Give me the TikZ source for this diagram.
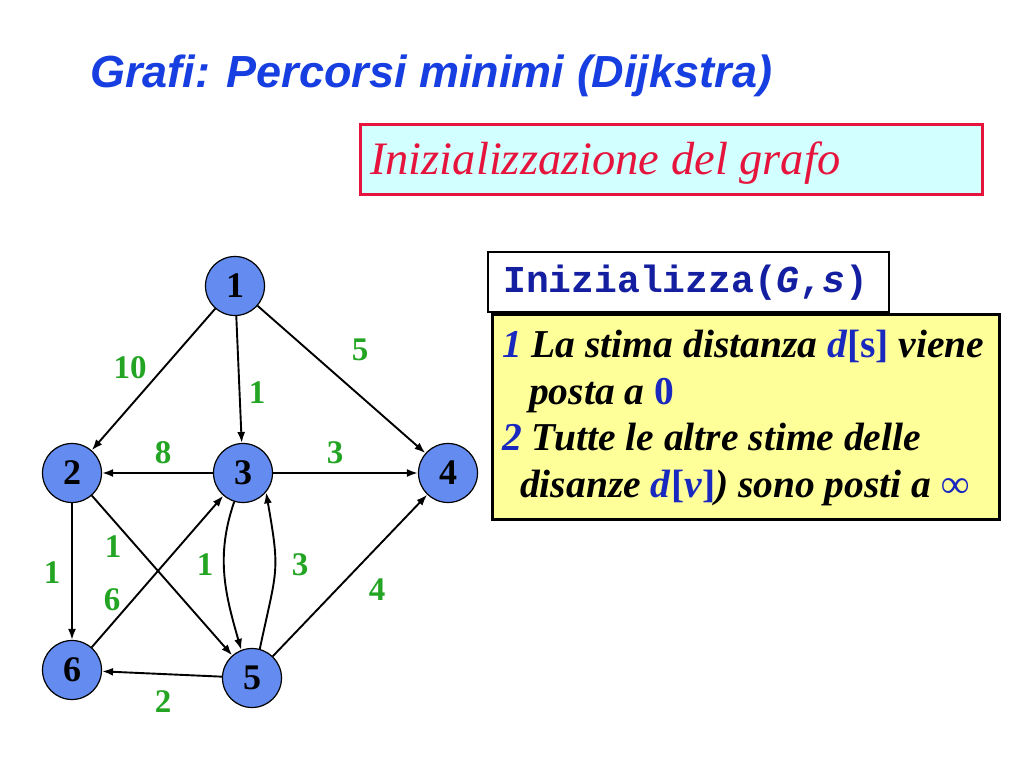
\documentclass[tikz,border=0pt]{standalone}
\usepackage{fontspec}
\setmainfont{Liberation Serif}
\newfontfamily\arialfont{Liberation Sans}
\newfontfamily\courfont{Liberation Mono}
\usetikzlibrary{arrows.meta}
\definecolor{titleblue}{RGB}{22,62,224}
\definecolor{boxred}{RGB}{230,20,60}
\definecolor{boxcyan}{RGB}{210,255,255}
\definecolor{navy}{RGB}{20,30,160}
\definecolor{darkblue}{RGB}{25,40,190}
\definecolor{lightyellow}{RGB}{255,255,153}
\definecolor{nodeblue}{RGB}{100,140,240}
\definecolor{labgreen}{RGB}{35,165,35}
\tikzset{
  vertex/.style={circle, draw=black, line width=1.2pt, fill=nodeblue, minimum size=59pt, inner sep=0pt,
    font=\fontsize{36}{36}\selectfont\bfseries},
  edge/.style={line width=1.9pt, -{Latex[length=11pt,width=8pt]}},
  wlabel/.style={text=labgreen, font=\fontsize{33}{33}\selectfont\bfseries, inner sep=0pt},
  txtline/.style={anchor=base west, inner sep=0pt, font=\fontsize{39.5}{47}\selectfont\bfseries\itshape}
}
\begin{document}
\begin{tikzpicture}[x=1pt,y=1pt]
\fill[white] (0,0) rectangle (1024,768);
\useasboundingbox (0,0) rectangle (1024,768);

% title
\node[anchor=base west, inner sep=0pt, text=titleblue, font=\arialfont\fontsize{45}{45}\selectfont\bfseries\itshape] (title) at (90,680) {Grafi: Percorsi minimi (Dijkstra)};

% red box
\draw[boxred, line width=3pt, fill=boxcyan] (360,573) rectangle (982,643);
\node[anchor=base west, inner sep=0pt, text=boxred, font=\fontsize{46.5}{46.5}\selectfont\itshape] (subtitle) at (370,593) {Inizializzazione del grafo};

% Inizializza box
\draw[black, line width=2pt, fill=white] (488,456) rectangle (889,516);
\node[anchor=base west, inner sep=0pt, text=navy, font=\courfont\fontsize{38}{38}\selectfont\bfseries] (proc) at (503,475) {Inizializza(\textit{G},\textit{s})};

% yellow box
\draw[black, line width=3pt, fill=lightyellow] (492,248) rectangle (999,453);
\node[txtline] (l1) at (502,410) {\textcolor{darkblue}{1} La stima distanza \textcolor{darkblue}{d\textup{[s]}} viene};
\node[txtline] (l2) at (529,363) {posta a \textcolor{darkblue}{\textup{0}}};
\node[txtline] (l3) at (502,317) {\textcolor{darkblue}{2} Tutte le altre stime delle};
\node[txtline] (l4) at (520,270) {disanze \textcolor{darkblue}{d\textup{[}v\textup{]}}) sono posti a \textcolor{darkblue}{\textup{∞}}};

% graph nodes
\node[vertex] (n1) at (235,482) {\raisebox{-7pt}{1}};
\node[vertex] (n2) at (72,295) {2};
\node[vertex] (n3) at (243,295) {\raisebox{-7pt}{3}};
\node[vertex] (n4) at (448,295) {4};
\node[vertex] (n5) at (252,90) {\raisebox{-5pt}{5}};
\node[vertex] (n6) at (72,98) {6};

% edges
\draw[edge] (n1) -- (n2);
\draw[edge] (n1) -- (n3);
\draw[edge] (n1) -- (n4);
\draw[edge] (n3) -- (n2);
\draw[edge] (n3) -- (n4);
\draw[edge] (n2) -- (n6);
\draw[edge] (n2) -- (n5);
\draw[edge] (n6) -- (n3);
\draw[edge] (n5) -- (n4);
\draw[edge] (n5) -- (n6);
\draw[edge] (n3.-107) to[out=-109,in=106] (n5.111);
\draw[edge] (n5.75) to[out=78,in=-80,looseness=1.35] (n3.-40);

% weights
\node[wlabel] (w12) at (130,400) {10};
\node[wlabel] (w13) at (257,375) {1};
\node[wlabel] (w14) at (360,418) {5};
\node[wlabel] (w32) at (163,315) {8};
\node[wlabel] (w34) at (335,315) {3};
\node[wlabel] (w26) at (52,195) {1};
\node[wlabel] (w25) at (113,221) {1};
\node[wlabel] (w63) at (112,168) {6};
\node[wlabel] (w35) at (205,203) {1};
\node[wlabel] (w53) at (300,203) {3};
\node[wlabel] (w54) at (377,178) {4};
\node[wlabel] (w56) at (163,66) {2};
\end{tikzpicture}
\end{document}
